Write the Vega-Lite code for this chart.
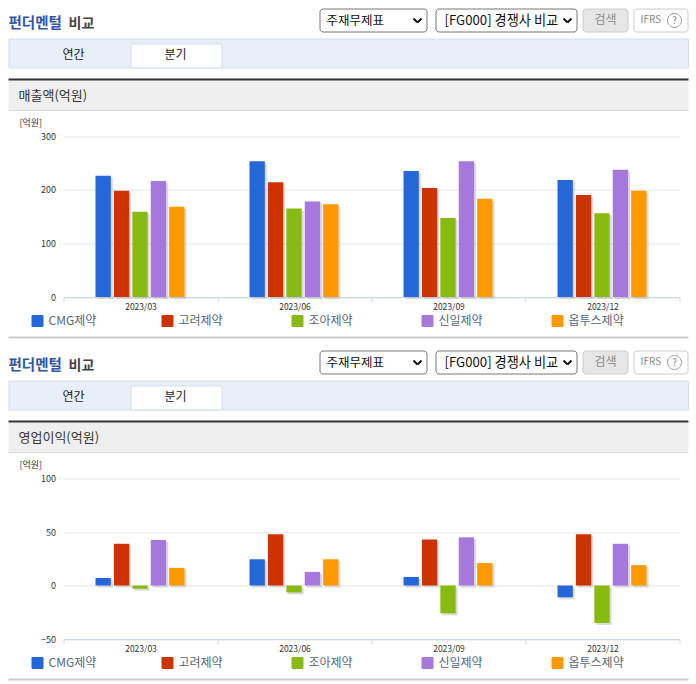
{"$schema":"https://vega.github.io/schema/vega-lite/v6.json","padding":{"left":-0.5,"top":-0.5,"right":0,"bottom":0},"bounds":"flush","spacing":0,"background":"white","config":{"view":{"stroke":null},"font":"Noto Sans CJK KR"},"datasets":{"sales":[{"quarter":"2023/03","company":"CMG제약","value":226},{"quarter":"2023/03","company":"고려제약","value":198},{"quarter":"2023/03","company":"조아제약","value":159},{"quarter":"2023/03","company":"신일제약","value":216},{"quarter":"2023/03","company":"옵투스제약","value":168},{"quarter":"2023/06","company":"CMG제약","value":253},{"quarter":"2023/06","company":"고려제약","value":214},{"quarter":"2023/06","company":"조아제약","value":165},{"quarter":"2023/06","company":"신일제약","value":178},{"quarter":"2023/06","company":"옵투스제약","value":173},{"quarter":"2023/09","company":"CMG제약","value":235},{"quarter":"2023/09","company":"고려제약","value":203},{"quarter":"2023/09","company":"조아제약","value":147},{"quarter":"2023/09","company":"신일제약","value":253},{"quarter":"2023/09","company":"옵투스제약","value":183},{"quarter":"2023/12","company":"CMG제약","value":218},{"quarter":"2023/12","company":"고려제약","value":190},{"quarter":"2023/12","company":"조아제약","value":156},{"quarter":"2023/12","company":"신일제약","value":237},{"quarter":"2023/12","company":"옵투스제약","value":198}],"profit":[{"quarter":"2023/03","company":"CMG제약","value":7},{"quarter":"2023/03","company":"고려제약","value":39},{"quarter":"2023/03","company":"조아제약","value":-3},{"quarter":"2023/03","company":"신일제약","value":42.5},{"quarter":"2023/03","company":"옵투스제약","value":16.5},{"quarter":"2023/06","company":"CMG제약","value":24.5},{"quarter":"2023/06","company":"고려제약","value":48},{"quarter":"2023/06","company":"조아제약","value":-6.5},{"quarter":"2023/06","company":"신일제약","value":12.7},{"quarter":"2023/06","company":"옵투스제약","value":24.5},{"quarter":"2023/09","company":"CMG제약","value":8},{"quarter":"2023/09","company":"고려제약","value":43},{"quarter":"2023/09","company":"조아제약","value":-26},{"quarter":"2023/09","company":"신일제약","value":45},{"quarter":"2023/09","company":"옵투스제약","value":21},{"quarter":"2023/12","company":"CMG제약","value":-11},{"quarter":"2023/12","company":"고려제약","value":48},{"quarter":"2023/12","company":"조아제약","value":-35},{"quarter":"2023/12","company":"신일제약","value":39},{"quarter":"2023/12","company":"옵투스제약","value":19}]},"resolve":{"scale":{"color":"independent"},"legend":{"color":"independent"}},"vconcat":[{"width":696,"height":342,"resolve":{"scale":{"x":"independent","y":"independent","xOffset":"independent"}},"layer":[{"data":{"values":[{"t":"펀더멘털"}]},"mark":{"type":"text","x":9,"y":24,"align":"left","baseline":"middle","fontSize":14.5,"fontWeight":"bold","fill":"#2f55a8"},"encoding":{"text":{"field":"t"}}},{"data":{"values":[{"t":"비교"}]},"mark":{"type":"text","x":69,"y":24,"align":"left","baseline":"middle","fontSize":14,"fontWeight":"bold","fill":"#444444"},"encoding":{"text":{"field":"t"}}},{"data":{"values":[{}]},"mark":{"type":"rect","x":320.5,"x2":427.5,"y":9.5,"y2":32.5,"fill":"white","stroke":"#767676","cornerRadius":3},"encoding":{}},{"data":{"values":[{"t":"주재무제표"}]},"mark":{"type":"text","x":327,"y":21,"align":"left","baseline":"middle","fontSize":12.5,"fill":"#111111"},"encoding":{"text":{"field":"t"}}},{"data":{"values":[{}]},"mark":{"type":"rule","stroke":"#111111","strokeWidth":2},"encoding":{"x":{"value":414},"x2":{"value":418},"y":{"value":19},"y2":{"value":23}}},{"data":{"values":[{}]},"mark":{"type":"rule","stroke":"#111111","strokeWidth":2},"encoding":{"x":{"value":418},"x2":{"value":422},"y":{"value":23},"y2":{"value":19}}},{"data":{"values":[{}]},"mark":{"type":"rect","x":436.5,"x2":577.5,"y":9.5,"y2":32.5,"fill":"white","stroke":"#767676","cornerRadius":3},"encoding":{}},{"data":{"values":[{"t":"[FG000] 경쟁사 비교"}]},"mark":{"type":"text","x":445,"y":21,"align":"left","baseline":"middle","fontSize":13.2,"fill":"#111111"},"encoding":{"text":{"field":"t"}}},{"data":{"values":[{}]},"mark":{"type":"rule","stroke":"#111111","strokeWidth":2},"encoding":{"x":{"value":564},"x2":{"value":568},"y":{"value":19},"y2":{"value":23}}},{"data":{"values":[{}]},"mark":{"type":"rule","stroke":"#111111","strokeWidth":2},"encoding":{"x":{"value":568},"x2":{"value":572},"y":{"value":23},"y2":{"value":19}}},{"data":{"values":[{}]},"mark":{"type":"rect","x":583.5,"x2":628.5,"y":9.5,"y2":32.5,"fill":"#e6e6e6","stroke":"#cccccc","cornerRadius":3},"encoding":{}},{"data":{"values":[{"t":"검색"}]},"mark":{"type":"text","x":606,"y":20,"align":"center","baseline":"middle","fontSize":12,"fill":"#8a8a8a"},"encoding":{"text":{"field":"t"}}},{"data":{"values":[{}]},"mark":{"type":"rect","x":634.5,"x2":688.5,"y":9.5,"y2":32.5,"fill":"white","stroke":"#cccccc","cornerRadius":3},"encoding":{}},{"data":{"values":[{"t":"IFRS"}]},"mark":{"type":"text","x":641,"y":20.5,"align":"left","baseline":"middle","fontSize":10,"fill":"#888888"},"encoding":{"text":{"field":"t"}}},{"data":{"values":[{}]},"mark":{"type":"rect","x":668,"x2":682,"y":14,"y2":28,"fill":"white","stroke":"#999999","cornerRadius":7},"encoding":{}},{"data":{"values":[{"t":"?"}]},"mark":{"type":"text","x":675,"y":21,"align":"center","baseline":"middle","fontSize":10,"fill":"#888888"},"encoding":{"text":{"field":"t"}}},{"data":{"values":[{}]},"mark":{"type":"rect","x":9.5,"x2":689,"y":39.5,"y2":68.5,"fill":"#e8eff8","stroke":"#d5dde8"},"encoding":{}},{"data":{"values":[{}]},"mark":{"type":"rect","x":131.5,"x2":222.5,"y":44.5,"y2":68.5,"fill":"white","stroke":"#d5dde8"},"encoding":{}},{"data":{"values":[{"t":"연간"}]},"mark":{"type":"text","x":74,"y":55,"align":"center","baseline":"middle","fontSize":12,"fill":"#222222"},"encoding":{"text":{"field":"t"}}},{"data":{"values":[{"t":"분기"}]},"mark":{"type":"text","x":176,"y":55,"align":"center","baseline":"middle","fontSize":12,"fill":"#222222"},"encoding":{"text":{"field":"t"}}},{"data":{"values":[{}]},"mark":{"type":"rect","x":9,"x2":689,"y":81,"y2":111,"fill":"#efefef"},"encoding":{}},{"data":{"values":[{}]},"mark":{"type":"rect","x":9,"x2":689,"y":110.5,"y2":111.5,"fill":"#dddddd"},"encoding":{}},{"data":{"values":[{}]},"mark":{"type":"rect","x":9,"x2":689,"y":79,"y2":81,"fill":"#333333"},"encoding":{}},{"data":{"values":[{"t":"매출액(억원)"}]},"mark":{"type":"text","x":19,"y":96,"align":"left","baseline":"middle","fontSize":13,"fill":"#333333"},"encoding":{"text":{"field":"t"}}},{"data":{"values":[{"t":"[억원]"}]},"mark":{"type":"text","x":20,"y":123,"align":"left","baseline":"middle","fontSize":9,"fill":"#333333"},"encoding":{"text":{"field":"t"}}},{"data":{"values":[{}]},"mark":{"type":"rect","x":9,"x2":689,"y":337,"y2":339,"fill":"#cccccc"},"encoding":{}},{"data":{"name":"sales"},"mark":{"type":"bar","fill":"#bbbbbb","opacity":0.55},"encoding":{"x":{"field":"quarter","type":"nominal","axis":null,"scale":{"range":[64,680],"paddingInner":0,"paddingOuter":0}},"xOffset":{"field":"company","sort":null,"scale":{"range":[34,123],"paddingInner":0.167}},"y":{"field":"value","type":"quantitative","axis":null,"scale":{"domain":[0,300],"nice":false,"range":[299.5,138.5]}}}},{"data":{"name":"sales"},"mark":{"type":"bar"},"encoding":{"x":{"field":"quarter","type":"nominal","title":null,"scale":{"range":[64,680],"paddingInner":0,"paddingOuter":0},"axis":{"offset":-44.5,"labelAngle":0,"labelFontSize":8.5,"labelColor":"#333333","labelPadding":0,"tickBand":"extent","tickColor":"#ccd6eb","domainColor":"#ccd6eb","tickSize":5,"grid":false}},"xOffset":{"field":"company","sort":null,"scale":{"range":[32,121],"paddingInner":0.167}},"y":{"field":"value","type":"quantitative","title":null,"scale":{"domain":[0,300],"nice":false,"range":[297.5,136.5]},"axis":{"offset":-64,"values":[0,100,200,300],"domain":false,"ticks":false,"labelFontSize":9,"labelColor":"#333333","labelPadding":8,"grid":true,"gridColor":"#e4e4e4"}},"color":{"field":"company","type":"nominal","title":null,"sort":null,"scale":{"domain":["CMG제약","고려제약","조아제약","신일제약","옵투스제약"],"range":["#2567d8","#cc3300","#88bb11","#a678dc","#ff9900"]},"legend":{"orient":"none","legendX":32,"legendY":315.5,"direction":"horizontal","columns":5,"gridAlign":"all","columnPadding":57,"symbolType":"M-0.8,-1H0.8Q1,-1 1,-0.8V0.8Q1,1 0.8,1H-0.8Q-1,1 -1,0.8V-0.8Q-1,-1 -0.8,-1Z","symbolSize":144,"symbolStrokeWidth":0,"labelFontSize":12,"labelColor":"#556677","labelOffset":5,"padding":0}}}}]},{"width":696,"height":342,"resolve":{"scale":{"x":"independent","y":"independent","xOffset":"independent"}},"layer":[{"data":{"values":[{"t":"펀더멘털"}]},"mark":{"type":"text","x":9,"y":24,"align":"left","baseline":"middle","fontSize":14.5,"fontWeight":"bold","fill":"#2f55a8"},"encoding":{"text":{"field":"t"}}},{"data":{"values":[{"t":"비교"}]},"mark":{"type":"text","x":69,"y":24,"align":"left","baseline":"middle","fontSize":14,"fontWeight":"bold","fill":"#444444"},"encoding":{"text":{"field":"t"}}},{"data":{"values":[{}]},"mark":{"type":"rect","x":320.5,"x2":427.5,"y":9.5,"y2":32.5,"fill":"white","stroke":"#767676","cornerRadius":3},"encoding":{}},{"data":{"values":[{"t":"주재무제표"}]},"mark":{"type":"text","x":327,"y":21,"align":"left","baseline":"middle","fontSize":12.5,"fill":"#111111"},"encoding":{"text":{"field":"t"}}},{"data":{"values":[{}]},"mark":{"type":"rule","stroke":"#111111","strokeWidth":2},"encoding":{"x":{"value":414},"x2":{"value":418},"y":{"value":19},"y2":{"value":23}}},{"data":{"values":[{}]},"mark":{"type":"rule","stroke":"#111111","strokeWidth":2},"encoding":{"x":{"value":418},"x2":{"value":422},"y":{"value":23},"y2":{"value":19}}},{"data":{"values":[{}]},"mark":{"type":"rect","x":436.5,"x2":577.5,"y":9.5,"y2":32.5,"fill":"white","stroke":"#767676","cornerRadius":3},"encoding":{}},{"data":{"values":[{"t":"[FG000] 경쟁사 비교"}]},"mark":{"type":"text","x":445,"y":21,"align":"left","baseline":"middle","fontSize":13.2,"fill":"#111111"},"encoding":{"text":{"field":"t"}}},{"data":{"values":[{}]},"mark":{"type":"rule","stroke":"#111111","strokeWidth":2},"encoding":{"x":{"value":564},"x2":{"value":568},"y":{"value":19},"y2":{"value":23}}},{"data":{"values":[{}]},"mark":{"type":"rule","stroke":"#111111","strokeWidth":2},"encoding":{"x":{"value":568},"x2":{"value":572},"y":{"value":23},"y2":{"value":19}}},{"data":{"values":[{}]},"mark":{"type":"rect","x":583.5,"x2":628.5,"y":9.5,"y2":32.5,"fill":"#e6e6e6","stroke":"#cccccc","cornerRadius":3},"encoding":{}},{"data":{"values":[{"t":"검색"}]},"mark":{"type":"text","x":606,"y":20,"align":"center","baseline":"middle","fontSize":12,"fill":"#8a8a8a"},"encoding":{"text":{"field":"t"}}},{"data":{"values":[{}]},"mark":{"type":"rect","x":634.5,"x2":688.5,"y":9.5,"y2":32.5,"fill":"white","stroke":"#cccccc","cornerRadius":3},"encoding":{}},{"data":{"values":[{"t":"IFRS"}]},"mark":{"type":"text","x":641,"y":20.5,"align":"left","baseline":"middle","fontSize":10,"fill":"#888888"},"encoding":{"text":{"field":"t"}}},{"data":{"values":[{}]},"mark":{"type":"rect","x":668,"x2":682,"y":14,"y2":28,"fill":"white","stroke":"#999999","cornerRadius":7},"encoding":{}},{"data":{"values":[{"t":"?"}]},"mark":{"type":"text","x":675,"y":21,"align":"center","baseline":"middle","fontSize":10,"fill":"#888888"},"encoding":{"text":{"field":"t"}}},{"data":{"values":[{}]},"mark":{"type":"rect","x":9.5,"x2":689,"y":39.5,"y2":68.5,"fill":"#e8eff8","stroke":"#d5dde8"},"encoding":{}},{"data":{"values":[{}]},"mark":{"type":"rect","x":131.5,"x2":222.5,"y":44.5,"y2":68.5,"fill":"white","stroke":"#d5dde8"},"encoding":{}},{"data":{"values":[{"t":"연간"}]},"mark":{"type":"text","x":74,"y":55,"align":"center","baseline":"middle","fontSize":12,"fill":"#222222"},"encoding":{"text":{"field":"t"}}},{"data":{"values":[{"t":"분기"}]},"mark":{"type":"text","x":176,"y":55,"align":"center","baseline":"middle","fontSize":12,"fill":"#222222"},"encoding":{"text":{"field":"t"}}},{"data":{"values":[{}]},"mark":{"type":"rect","x":9,"x2":689,"y":81,"y2":111,"fill":"#efefef"},"encoding":{}},{"data":{"values":[{}]},"mark":{"type":"rect","x":9,"x2":689,"y":110.5,"y2":111.5,"fill":"#dddddd"},"encoding":{}},{"data":{"values":[{}]},"mark":{"type":"rect","x":9,"x2":689,"y":79,"y2":81,"fill":"#333333"},"encoding":{}},{"data":{"values":[{"t":"영업이익(억원)"}]},"mark":{"type":"text","x":19,"y":96,"align":"left","baseline":"middle","fontSize":13,"fill":"#333333"},"encoding":{"text":{"field":"t"}}},{"data":{"values":[{"t":"[억원]"}]},"mark":{"type":"text","x":20,"y":123,"align":"left","baseline":"middle","fontSize":9,"fill":"#333333"},"encoding":{"text":{"field":"t"}}},{"data":{"values":[{}]},"mark":{"type":"rect","x":9,"x2":689,"y":337,"y2":339,"fill":"#cccccc"},"encoding":{}},{"data":{"name":"profit"},"mark":{"type":"bar","fill":"#bbbbbb","opacity":0.55},"encoding":{"x":{"field":"quarter","type":"nominal","axis":null,"scale":{"range":[64,680],"paddingInner":0,"paddingOuter":0}},"xOffset":{"field":"company","sort":null,"scale":{"range":[34,123],"paddingInner":0.167}},"y":{"field":"value","type":"quantitative","axis":null,"scale":{"domain":[-50,100],"nice":false,"range":[299.5,139]}}}},{"data":{"name":"profit"},"mark":{"type":"bar"},"encoding":{"x":{"field":"quarter","type":"nominal","title":null,"scale":{"range":[64,680],"paddingInner":0,"paddingOuter":0},"axis":{"offset":-44.5,"labelAngle":0,"labelFontSize":8.5,"labelColor":"#333333","labelPadding":0,"tickBand":"extent","tickColor":"#ccd6eb","domainColor":"#ccd6eb","tickSize":5,"grid":false}},"xOffset":{"field":"company","sort":null,"scale":{"range":[32,121],"paddingInner":0.167}},"y":{"field":"value","type":"quantitative","title":null,"scale":{"domain":[-50,100],"nice":false,"range":[297.5,137]},"axis":{"offset":-64,"values":[-50,0,50,100],"domain":false,"ticks":false,"labelFontSize":9,"labelColor":"#333333","labelPadding":8,"grid":true,"gridColor":"#e4e4e4"}},"color":{"field":"company","type":"nominal","title":null,"sort":null,"scale":{"domain":["CMG제약","고려제약","조아제약","신일제약","옵투스제약"],"range":["#2567d8","#cc3300","#88bb11","#a678dc","#ff9900"]},"legend":{"orient":"none","legendX":32,"legendY":315.5,"direction":"horizontal","columns":5,"gridAlign":"all","columnPadding":57,"symbolType":"M-0.8,-1H0.8Q1,-1 1,-0.8V0.8Q1,1 0.8,1H-0.8Q-1,1 -1,0.8V-0.8Q-1,-1 -0.8,-1Z","symbolSize":144,"symbolStrokeWidth":0,"labelFontSize":12,"labelColor":"#556677","labelOffset":5,"padding":0}}}}]}]}
